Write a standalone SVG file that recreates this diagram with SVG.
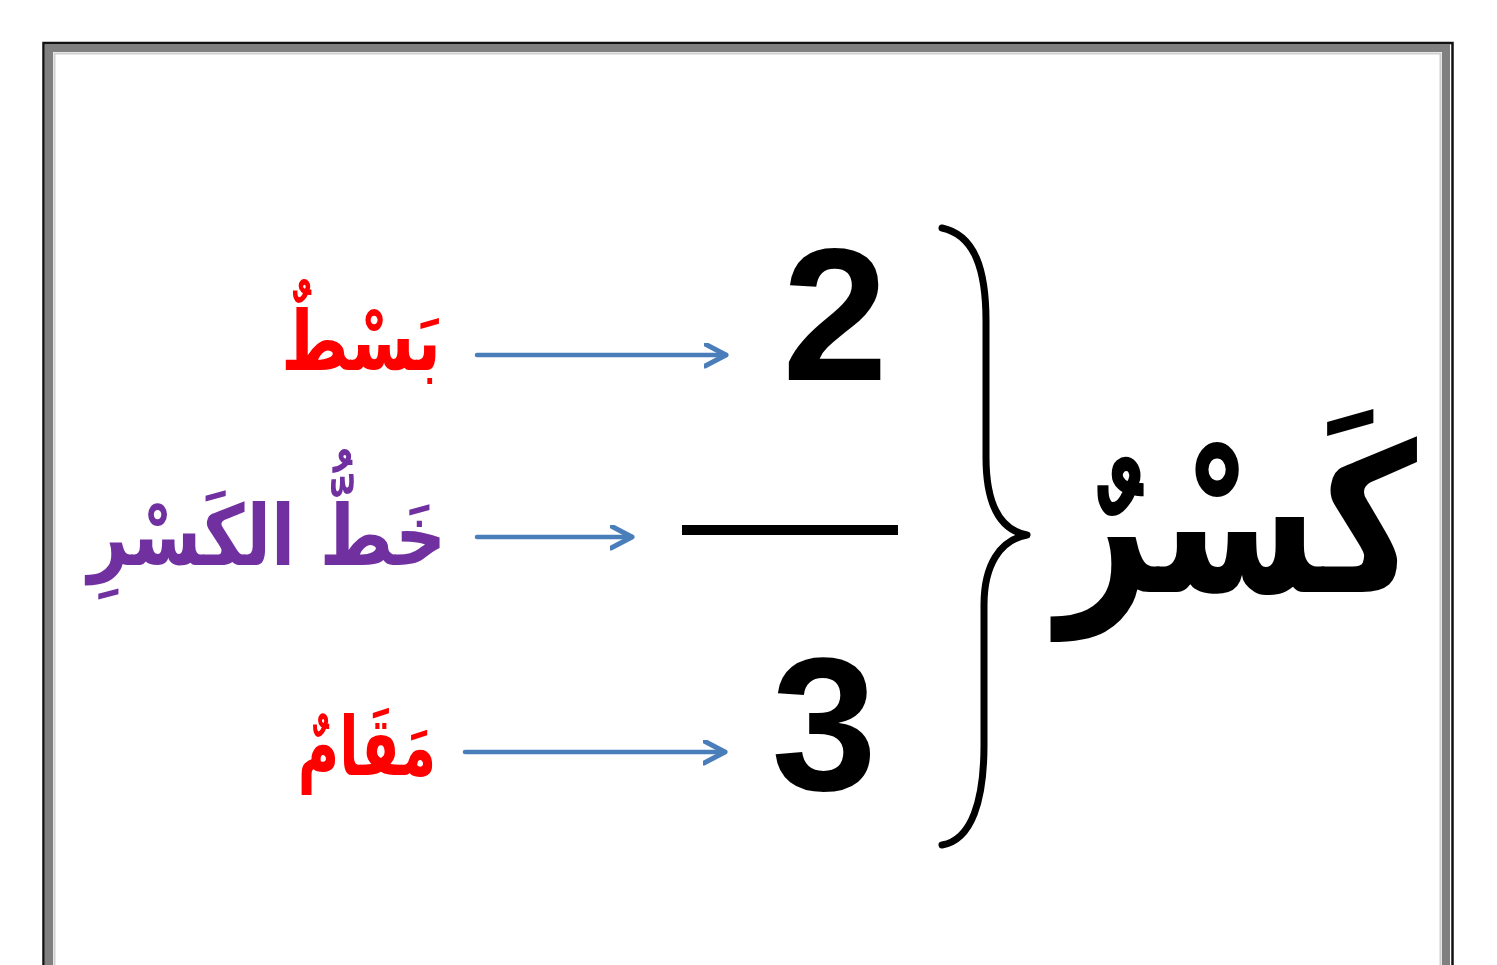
<svg xmlns="http://www.w3.org/2000/svg" width="1497" height="965" viewBox="0 0 1497 965">
<style>
.ar{font-family:"DejaVu Sans","Noto Sans",sans-serif;font-weight:bold;text-anchor:middle}
.num{font-family:"Liberation Sans",Arial,sans-serif;font-weight:bold;font-size:190px;text-anchor:middle;fill:#000}
.red{fill:#ff0000}
.pur{fill:#7030a0}
.arrow{stroke:#4a7ebb;stroke-width:4.5;fill:none;stroke-linecap:round}
</style>
<defs>
<marker id="chev" markerUnits="userSpaceOnUse" markerWidth="30" markerHeight="30" refX="22" refY="12" orient="auto">
<path d="M1,1 L22,12 L1,23" fill="none" stroke="#4a7ebb" stroke-width="5" stroke-linecap="round" stroke-linejoin="round"/>
</marker>
</defs>
<rect width="1497" height="965" fill="#fff"/>
<g id="frame" fill="none">
<rect x="43.5" y="43" width="1409" height="960" stroke="#111" stroke-width="2.5"/>
<rect x="49" y="48" width="1397" height="950" stroke="#808080" stroke-width="8"/>
<rect x="54.5" y="53.5" width="1386" height="940" stroke="#cfcfcf" stroke-width="2"/>
</g>
<g id="label-bast" transform="translate(361,370) scale(0.78,1)"><text class="ar red" x="0" y="0" font-size="83">بَسْطٌ</text></g>
<g id="label-khatt" transform="translate(267,565) scale(0.84,1)"><text class="ar pur" x="0" y="0" font-size="84">خَطُّ الكَسْرِ</text></g>
<g id="label-maqam" transform="translate(367,775) scale(0.69,1)"><text class="ar red" x="0" y="0" font-size="82">مَقَامٌ</text></g>
<g id="numerator"><text class="num" x="835" y="380">2</text></g>
<g id="fraction-bar"><line x1="682" y1="530" x2="898" y2="530" stroke="#000" stroke-width="10"/></g>
<g id="denominator"><text class="num" x="824" y="790">3</text></g>
<g id="brace"><path d="M942,228 C975,235 986,270 986,321 L986,457 C986,505 1000,530 1027,535 C1000,540 984,565 984,605 L984,745 C984,800 972,840 942,845" fill="none" stroke="#000" stroke-width="7" stroke-linecap="round" stroke-linejoin="round"/></g>
<g id="title" transform="translate(1237,592) scale(0.79,1)"><text class="ar" x="0" y="0" font-size="205" fill="#000">كَسْرٌ</text></g>
<g id="connectors">
<line class="arrow" x1="477" y1="355" x2="726" y2="355" marker-end="url(#chev)"/>
<line class="arrow" x1="477" y1="537" x2="632" y2="537" marker-end="url(#chev)"/>
<line class="arrow" x1="465" y1="752" x2="725" y2="752" marker-end="url(#chev)"/>
</g>
</svg>
